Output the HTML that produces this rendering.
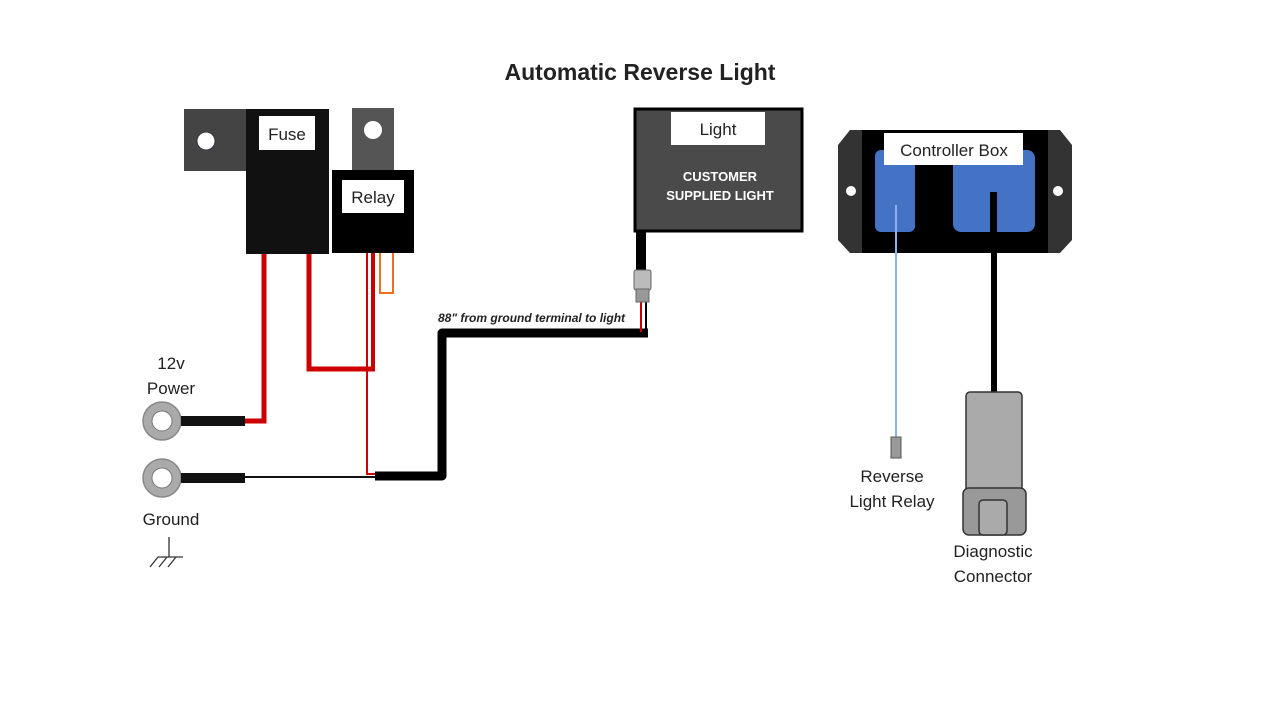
<!DOCTYPE html>
<html><head><meta charset="utf-8"><style>
html,body{margin:0;padding:0;background:#fff;}
svg{display:block;}
text{font-family:"Liberation Sans",sans-serif;}
</style></head><body>
<svg width="1280" height="720" viewBox="0 0 1280 720" xmlns="http://www.w3.org/2000/svg">
<rect width="1280" height="720" fill="#fff"/>
<text x="640" y="80" text-anchor="middle" font-size="23" font-weight="bold" fill="#222">Automatic Reverse Light</text>

<!-- Fuse -->
<rect x="184" y="109" width="66" height="62" fill="#444"/>
<circle cx="206" cy="141" r="9" fill="#fff" stroke="#334" stroke-width="1"/>
<rect x="246" y="109" width="83" height="145" fill="#111"/>
<rect x="259" y="116" width="56" height="34" fill="#fff"/>
<text x="287" y="140" text-anchor="middle" font-size="17" fill="#222">Fuse</text>

<!-- Relay -->
<rect x="352" y="108" width="42" height="63" fill="#555"/>
<circle cx="373" cy="130" r="9" fill="#fff"/>
<rect x="332" y="170" width="82" height="83" fill="#000"/>
<rect x="342" y="180" width="62" height="33" fill="#fff"/>
<text x="373" y="203" text-anchor="middle" font-size="17" fill="#222">Relay</text>

<!-- Orange wire -->
<path d="M380 253 V293 H393 V253" fill="none" stroke="#f07020" stroke-width="2"/>

<!-- Red wires -->
<path d="M264 254 V421 H244" fill="none" stroke="#cc0000" stroke-width="5"/>
<path d="M309 254 V369 H375" fill="none" stroke="#cc0000" stroke-width="5"/>
<path d="M373 253 V371" fill="none" stroke="#cc0000" stroke-width="4"/>
<path d="M367 253 V474 H375" fill="none" stroke="#cc0000" stroke-width="2"/>

<!-- Lugs -->
<circle cx="162" cy="421" r="19" fill="#aaa" stroke="#888" stroke-width="1.5"/>
<circle cx="162" cy="421" r="10" fill="#fff" stroke="#777" stroke-width="1"/>
<rect x="181" y="416" width="64" height="10" fill="#111"/>
<circle cx="162" cy="478" r="19" fill="#aaa" stroke="#888" stroke-width="1.5"/>
<circle cx="162" cy="478" r="10" fill="#fff" stroke="#777" stroke-width="1"/>
<rect x="181" y="473" width="64" height="10" fill="#111"/>
<line x1="245" y1="477" x2="376" y2="477" stroke="#111" stroke-width="2"/>

<!-- Ground black wire -->
<path d="M375 476 H442 V333 H648" fill="none" stroke="#000" stroke-width="9" stroke-linejoin="round"/>
<text x="438" y="322" font-size="12" font-weight="bold" font-style="italic" fill="#222">88" from ground terminal to light</text>
<line x1="641" y1="300" x2="641" y2="332" stroke="#cc0000" stroke-width="2"/>
<line x1="646" y1="300" x2="646" y2="332" stroke="#000" stroke-width="2"/>

<!-- Light -->
<rect x="635" y="109" width="167" height="122" fill="#4a4a4a" stroke="#000" stroke-width="3"/>
<rect x="671" y="112" width="94" height="33" fill="#fff"/>
<text x="718" y="135" text-anchor="middle" font-size="17" fill="#222">Light</text>
<text x="720" y="181" text-anchor="middle" font-size="13" font-weight="bold" fill="#fff">CUSTOMER</text>
<text x="720" y="200" text-anchor="middle" font-size="13" font-weight="bold" fill="#fff">SUPPLIED LIGHT</text>
<rect x="636" y="231" width="10" height="40" fill="#000"/>
<rect x="634" y="270" width="17" height="20" rx="2" fill="#bbb" stroke="#666" stroke-width="1"/>
<rect x="636" y="289" width="13" height="13" fill="#999" stroke="#666" stroke-width="1"/>

<!-- Controller Box -->
<polygon points="838,145 850,130 1060,130 1072,145 1072,240 1060,253 850,253 838,240" fill="#333"/>
<rect x="862" y="130" width="186" height="123" fill="#000"/>
<circle cx="851" cy="191" r="5" fill="#fff"/>
<circle cx="1058" cy="191" r="5" fill="#fff"/>
<rect x="875" y="150" width="40" height="82" rx="6" fill="#4472c4"/>
<rect x="953" y="150" width="82" height="82" rx="8" fill="#4472c4"/>
<rect x="990" y="192" width="7" height="45" fill="#000"/>
<rect x="884" y="133" width="139" height="32" fill="#fff"/>
<text x="954" y="156" text-anchor="middle" font-size="17" fill="#222">Controller Box</text>

<line x1="896" y1="205" x2="896" y2="438" stroke="#8fb0e8" stroke-width="2"/>
<rect x="891" y="437" width="10" height="21" fill="#999" stroke="#555" stroke-width="1"/>
<text x="892" y="482" text-anchor="middle" font-size="17" fill="#222">Reverse</text>
<text x="892" y="507" text-anchor="middle" font-size="17" fill="#222">Light Relay</text>

<rect x="991" y="253" width="6" height="140" fill="#000"/>
<rect x="966" y="392" width="56" height="100" rx="4" fill="#aaa" stroke="#333" stroke-width="1.5"/>
<rect x="963" y="488" width="63" height="47" rx="6" fill="#999" stroke="#333" stroke-width="1.5"/>
<rect x="979" y="500" width="28" height="35" rx="4" fill="#aaa" stroke="#333" stroke-width="1.5"/>
<text x="993" y="557" text-anchor="middle" font-size="17" fill="#222">Diagnostic</text>
<text x="993" y="582" text-anchor="middle" font-size="17" fill="#222">Connector</text>

<!-- Labels left -->
<text x="171" y="369" text-anchor="middle" font-size="17" fill="#222">12v</text>
<text x="171" y="394" text-anchor="middle" font-size="17" fill="#222">Power</text>
<text x="171" y="525" text-anchor="middle" font-size="17" fill="#222">Ground</text>
<g stroke="#333" stroke-width="1.3" fill="none">
<line x1="169" y1="537" x2="169" y2="557"/>
<line x1="158" y1="557" x2="183" y2="557"/>
<line x1="158" y1="557" x2="150" y2="567"/>
<line x1="167" y1="557" x2="159" y2="567"/>
<line x1="176" y1="557" x2="168" y2="567"/>
</g>
</svg>
</body></html>
